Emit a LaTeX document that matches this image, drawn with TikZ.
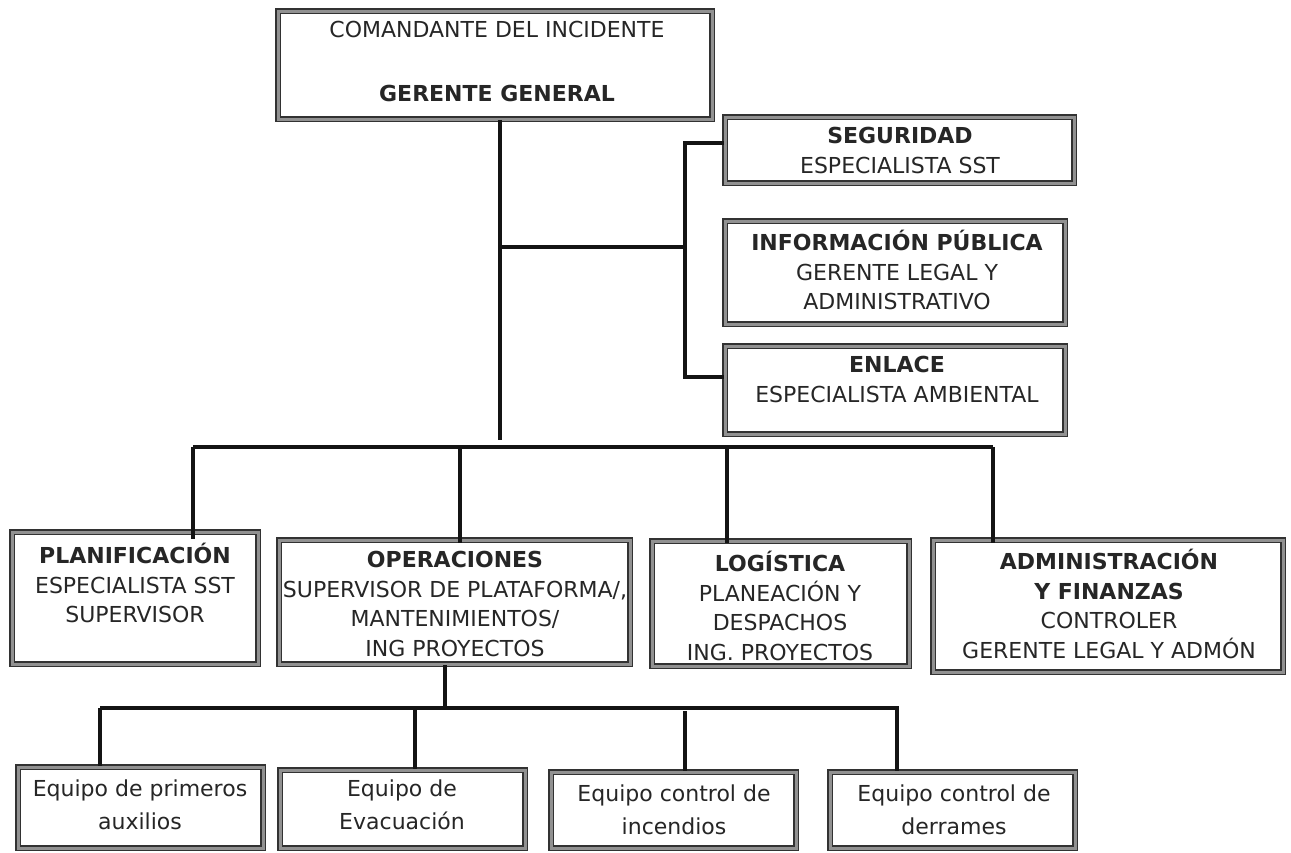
\documentclass[tikz,border=0pt]{standalone}
\usepackage{fontspec}
\setmainfont{DejaVu Sans}
\begin{document}
\begin{tikzpicture}[x=1pt,y=-1pt,
  frame/.style={rectangle, inner sep=0pt, fill=white,
    draw={rgb,255:red,50;green,50;blue,50},
    double={rgb,255:red,145;green,145;blue,145},
    double distance=3pt, line width=1.6pt},
  conn/.style={line width=3.2pt, draw=black!92},
  txt/.style={inner sep=0pt, anchor=north, align=center, text=black!85,
    font=\fontsize{22}{29.5}\selectfont,
    execute at begin node={\rule{0pt}{21pt}}},
  eqtxt/.style={txt, font=\fontsize{22}{32.5}\selectfont}]
\useasboundingbox (0,0) rectangle (1291,852);

% ---------- boxes ----------
\node[frame, minimum width=434pt, minimum height=108pt] (cmd) at (495,65) {};
\node[frame, minimum width=349pt, minimum height=66pt] (seg) at (899.5,150) {};
\node[frame, minimum width=340pt, minimum height=103pt] (info) at (895,272.5) {};
\node[frame, minimum width=340pt, minimum height=88pt] (enl) at (895,390) {};

\node[frame, minimum width=246pt, minimum height=132pt] (plan) at (135,598) {};
\node[frame, minimum width=351pt, minimum height=124pt] (oper) at (454.5,602) {};
\node[frame, minimum width=257pt, minimum height=125pt] (logi) at (780.5,603.5) {};
\node[frame, minimum width=350pt, minimum height=132pt] (admi) at (1108,606) {};

\node[frame, minimum width=245pt, minimum height=81pt] (eq1) at (140.5,807.5) {};
\node[frame, minimum width=245pt, minimum height=78pt] (eq2) at (402.5,809) {};
\node[frame, minimum width=245pt, minimum height=76pt] (eq3) at (673.5,810) {};
\node[frame, minimum width=245pt, minimum height=76pt] (eq4) at (952.5,810) {};

% ---------- texts ----------
\node[txt] (cmd-t) at (497,21) {COMANDANTE DEL INCIDENTE\\[34pt]\textbf{GERENTE GENERAL}};
\node[txt] (seg-t) at (900,127) {\textbf{SEGURIDAD}\\ESPECIALISTA SST};
\node[txt] (info-t) at (897,230) {\textbf{INFORMACIÓN PÚBLICA}\\GERENTE LEGAL Y\\ADMINISTRATIVO};
\node[txt] (enl-t) at (897,356) {\textbf{ENLACE}\\ESPECIALISTA AMBIENTAL};

\node[txt] (plan-t) at (135,543) {\textbf{PLANIFICACIÓN}\\ESPECIALISTA SST\\SUPERVISOR};
\node[txt] (oper-t) at (455,551) {\textbf{OPERACIONES}\\SUPERVISOR DE PLATAFORMA/,\\MANTENIMIENTOS/\\ING PROYECTOS};
\node[txt] (logi-t) at (780,551) {\textbf{LOGÍSTICA}\\PLANEACIÓN Y\\DESPACHOS\\ING. PROYECTOS};
\node[txt] (admi-t) at (1109,549) {\textbf{ADMINISTRACIÓN}\\\textbf{Y FINANZAS}\\CONTROLER\\GERENTE LEGAL Y ADMÓN};

\node[eqtxt] (eq1-t) at (140,780) {Equipo de primeros\\auxilios};
\node[eqtxt] (eq2-t) at (402,780) {Equipo de\\Evacuación};
\node[eqtxt] (eq3-t) at (674,785) {Equipo control de\\incendios};
\node[eqtxt] (eq4-t) at (954,785) {Equipo control de\\derrames};

% ---------- junction coordinates ----------
\coordinate (trunkend) at (500,440);
\coordinate (staffj) at (500,247);
\coordinate (sj) at (685,143);
\coordinate (ej) at (685,377);
\coordinate (b1) at (193,447);
\coordinate (b2) at (460,447);
\coordinate (b3) at (727,447);
\coordinate (b4) at (993,447);
\coordinate (opj) at (445,708);
\coordinate (l1) at (100,708);
\coordinate (l2) at (415,708);
\coordinate (l3) at (685,708);
\coordinate (l4) at (897,708);

% ---------- connectors ----------
\draw[conn] (cmd.south -| trunkend) -- (trunkend);
\draw[conn] (staffj) -- (staffj -| sj);
\draw[conn] (sj -| seg.west) -- (sj) -- (ej) -- (ej -| enl.west);

\draw[conn] (b1) -- (b4);
\draw[conn] (b1) -- ([yshift=-8pt]b1 |- plan.north);
\draw[conn] (b2) -- ([yshift=-4pt]b2 |- oper.north);
\draw[conn] (b3) -- ([yshift=-3pt]b3 |- logi.north);
\draw[conn] (b4) -- ([yshift=-4pt]b4 |- admi.north);

\draw[conn] (oper.south -| opj) -- (opj);
\draw[conn] (l1) -- (l4) -- (l4 |- eq4.north);
\draw[conn] (l1) -- (l1 |- eq1.north);
\draw[conn] (l2) -- (l2 |- eq2.north);
\draw[conn] ([yshift=-3pt]l3) -- (l3 |- eq3.north);
\end{tikzpicture}
\end{document}
